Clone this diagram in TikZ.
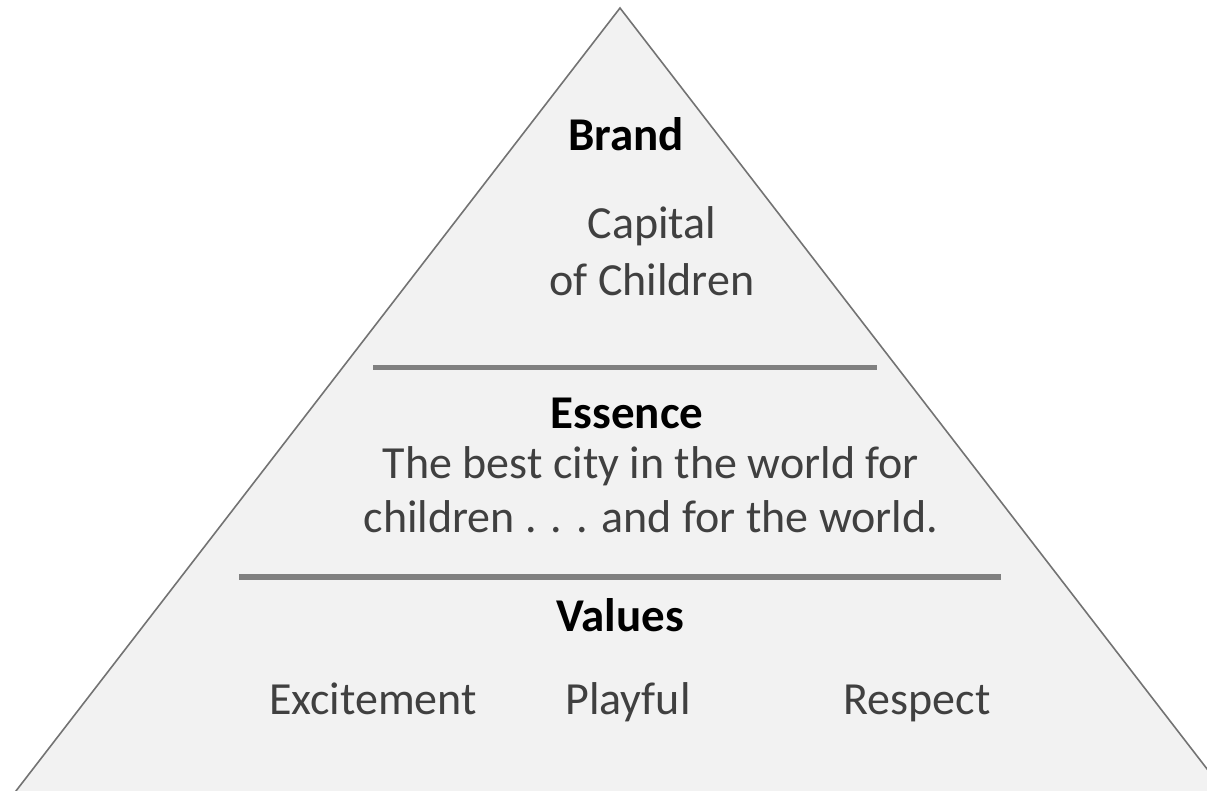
\documentclass[tikz,border=0pt]{standalone}
\usepackage{fontspec}
\setmainfont{Carlito}
\definecolor{fillgray}{HTML}{F2F2F2}
\definecolor{edgegray}{HTML}{737373}
\definecolor{bargray}{HTML}{808080}
\definecolor{txtgray}{HTML}{404040}
\tikzset{
  title/.style={anchor=base, font={\fontsize{47}{56}\selectfont\bfseries}, text=black, inner sep=0pt},
  body/.style={anchor=base, font={\fontsize{46}{56}\selectfont}, text=txtgray, align=center, inner sep=0pt},
  bar/.style={draw=bargray, line width=5.5pt},
  pyr/.style={draw=edgegray, fill=fillgray, line width=1.6pt, line join=miter}
}
\begin{document}
\begin{tikzpicture}[x=1pt,y=-1pt]
\useasboundingbox (0,0) rectangle (1207,791);
\clip (0,0) rectangle (1207,791);
\coordinate (apex) at (620,8);
\coordinate (bl) at (9,800);
\coordinate (br) at (1231,800);
\draw[pyr] (apex) -- (br) -- (bl) -- cycle;
\coordinate (b1l) at (373,367.5);
\coordinate (b1r) at (877,367.5);
\coordinate (b2l) at (239,577);
\coordinate (b2r) at (1001,577);
\draw[bar] (b1l) -- (b1r);
\draw[bar] (b2l) -- (b2r);
\node[title] (brand) at (626,151) {Brand};
\node[body, font={\fontsize{46}{57}\selectfont}] (capital) at (652,296) {Capital\\of Children};
\node[title] (essence) at (627,428) {Essence};
\node[body, font={\fontsize{46}{54}\selectfont}] (best) at (651,532) {The best city in the world for\\children . . . and for the world.};
\node[title] (values) at (620,631) {Values};
\node[body] (exc) at (373,714) {Excitement};
\node[body] (play) at (628,714) {Playful};
\node[body] (resp) at (917,714) {Respect};
\end{tikzpicture}
\end{document}
